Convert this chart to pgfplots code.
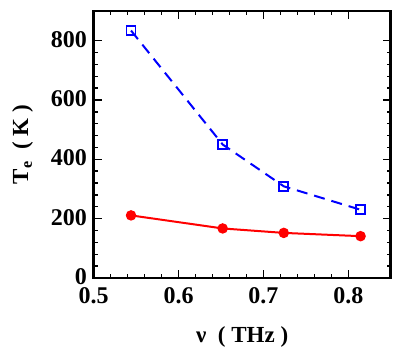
\documentclass[border=0pt]{standalone}
\usepackage{fontspec}
\setmainfont{Liberation Serif}
\usepackage{pgfplots}
\pgfplotsset{compat=1.18}
\usetikzlibrary{calc}
\begin{document}
\begin{tikzpicture}
\begin{axis}[
    scale only axis,
    width=297pt, height=267pt,
    xmin=0.5, xmax=0.85,
    ymin=0, ymax=900,
    xtick={0.5,0.6,0.7,0.8},
    ytick={0,200,400,600,800},
    minor x tick num=4,
    minor y tick num=4,
    tick align=inside,
    major tick length=8pt,
    minor tick length=4pt,
    every tick/.style={black, line width=1.4pt},
    axis line style={line width=2.4pt},
    xticklabel style={/pgf/number format/fixed, /pgf/number format/precision=1, /pgf/number format/fixed zerofill},
    yticklabel style={yshift=1.5pt},
    /pgf/number format/assume math mode=true,
    every tick label/.append style={font=\fontsize{24}{26}\selectfont\bfseries, inner sep=0.5pt},
    every axis label/.append style={font=\fontsize{23}{25}\selectfont\bfseries},
    xticklabel shift=9pt,
    yticklabel shift=6pt,
    xlabel={ν~~(~THz~)},
    ylabel={T\textsubscript{e}~~(~K~)},
    xlabel style={yshift=-19pt},
    ylabel style={yshift=14pt},
]
\addplot[blue, dash pattern=on 11pt off 7pt, line width=2pt,
    mark=square, mark size=4.5pt, mark options={solid, line width=1.8pt}]
    coordinates {(0.544,834) (0.652,450) (0.724,309) (0.8145,230)};
\addplot[red, line width=2pt, mark=*, mark size=4.2pt, mark options={solid}]
    coordinates {(0.544,211) (0.652,167) (0.724,152) (0.8145,141)};
\end{axis}
\path[use as bounding box] ($(current axis.south west)+(-93.7pt,-75.7pt)$) rectangle ($(current axis.north east)+(13.3pt,11pt)$);
\end{tikzpicture}
\end{document}
